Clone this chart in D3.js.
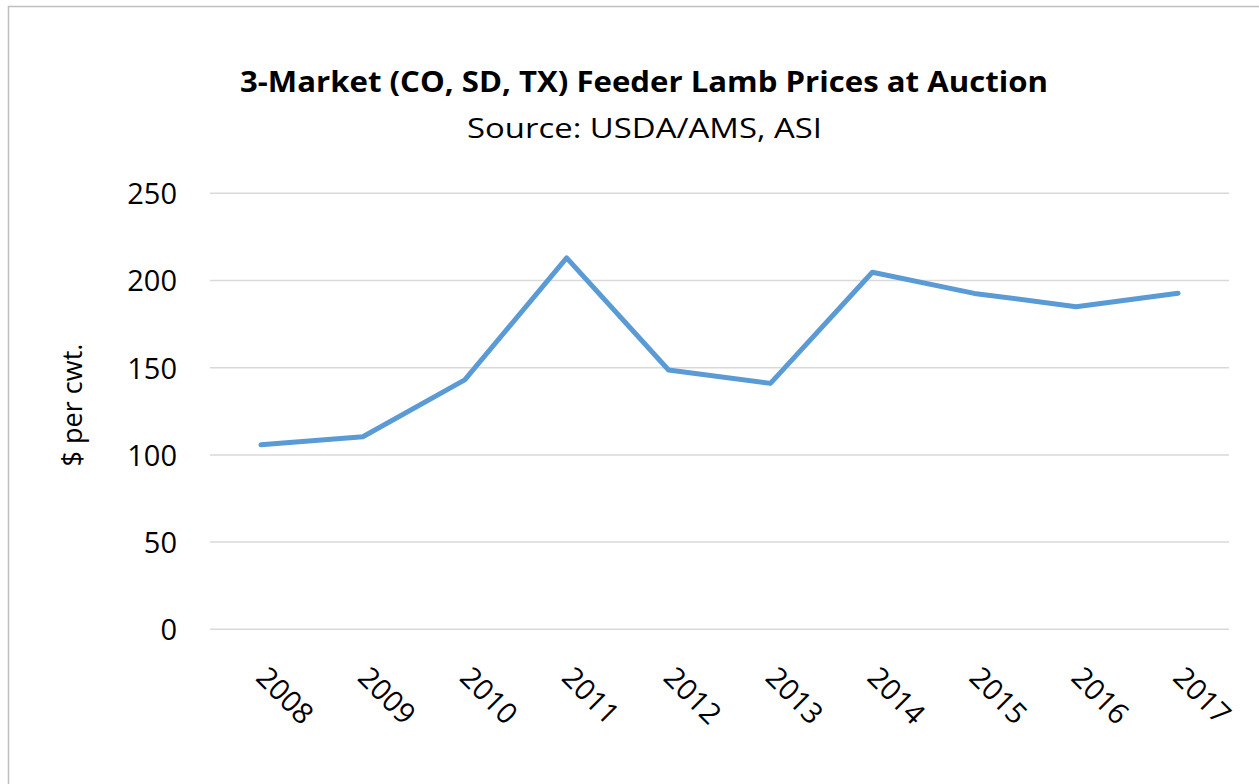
<!DOCTYPE html>
<html>
<head>
<meta charset="UTF-8">
<title>Feeder Lamb Prices</title>
<script src="https://cdn.jsdelivr.net/npm/d3@7"></script>
<style>
  body { margin: 0; background: #fff; }
  svg { display: block; font-family: "Open Sans", "Noto Sans", sans-serif; }
</style>
</head>
<body>
<div id="chart"></div>
<script>
// data
const years = ["2008", "2009", "2010", "2011", "2012", "2013", "2014", "2015", "2016", "2017"];
const prices = [105.8, 110.4, 143, 213, 148.7, 141, 204.7, 192.6, 185, 192.7];
const yTicks = [0, 50, 100, 150, 200, 250];

const width = 1259, height = 784;
const plot = { left: 210, right: 1229, top: 193.3, bottom: 629.3 };

const svg = d3.select("#chart").append("svg")
    .attr("width", width)
    .attr("height", height);

// chart frame (runs off right/bottom edge)
svg.append("rect")
    .attr("x", 8.5).attr("y", 6.5)
    .attr("width", 1300).attr("height", 900)
    .attr("fill", "none")
    .attr("stroke", "#bfbfbf")
    .attr("stroke-width", 1.5);

const x = d3.scalePoint()
    .domain(years)
    .range([plot.left, plot.right])
    .padding(0.5);

const y = d3.scaleLinear()
    .domain([0, 250])
    .range([plot.bottom, plot.top]);

// gridlines
svg.append("g")
    .selectAll("line")
    .data(yTicks)
    .enter().append("line")
    .attr("x1", plot.left).attr("x2", plot.right)
    .attr("y1", d => y(d)).attr("y2", d => y(d))
    .attr("stroke", "#d9d9d9")
    .attr("stroke-width", 1.5);

// y axis labels
const yAxis = svg.append("g")
    .attr("transform", `translate(${plot.left},0)`)
    .call(d3.axisLeft(y).tickValues(yTicks).tickSize(0).tickPadding(33));
yAxis.select(".domain").remove();
yAxis.selectAll("text")
    .attr("font-size", "29px")
    .attr("font-family", "Open Sans")
    .attr("fill", "#000")
    .attr("dy", "0.36em");

// x axis labels, rotated
const xAxis = svg.append("g")
    .attr("transform", `translate(0,${plot.bottom})`)
    .call(d3.axisBottom(x).tickSize(0));
xAxis.select(".domain").remove();
xAxis.selectAll("text")
    .attr("font-size", "29px")
    .attr("font-family", "Open Sans")
    .attr("fill", "#000")
    .attr("text-anchor", "start")
    .attr("x", 0).attr("y", 0).attr("dy", 0)
    .attr("transform", "translate(-7,50) rotate(45)");

// price line
const line = d3.line()
    .x((d, i) => x(years[i]))
    .y(d => y(d));

svg.append("path")
    .datum(prices)
    .attr("d", line)
    .attr("fill", "none")
    .attr("stroke", "#5b9bd5")
    .attr("stroke-width", 5)
    .attr("stroke-linejoin", "round")
    .attr("stroke-linecap", "round");

// titles
svg.append("text")
    .attr("x", 644).attr("y", 92)
    .attr("text-anchor", "middle")
    .attr("font-size", "29px")
    .attr("font-weight", "bold")
    .attr("fill", "#000")
    .attr("textLength", 808)
    .attr("lengthAdjust", "spacingAndGlyphs")
    .text("3-Market (CO, SD, TX) Feeder Lamb Prices at Auction");

svg.append("text")
    .attr("x", 644.5).attr("y", 138)
    .attr("text-anchor", "middle")
    .attr("font-size", "27px")
    .attr("fill", "#000")
    .attr("textLength", 355)
    .attr("lengthAdjust", "spacingAndGlyphs")
    .text("Source: USDA/AMS, ASI");

// y axis title
svg.append("text")
    .attr("transform", "translate(82,405) rotate(-90)")
    .attr("text-anchor", "middle")
    .attr("font-size", "27px")
    .attr("fill", "#000")
    .text("$ per cwt.");
</script>
</body>
</html>
